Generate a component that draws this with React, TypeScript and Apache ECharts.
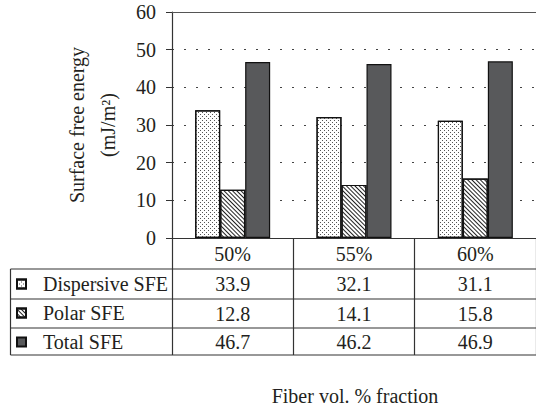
import React, { useEffect, useRef } from "react";
import * as echarts from "echarts";

const categories = ["50%", "55%", "60%"];
const seriesNames = ["Dispersive SFE", "Polar SFE", "Total SFE"];
const dispersive = [33.9, 32.1, 31.1];
const polar = [12.8, 14.1, 15.8];
const total = [46.7, 46.2, 46.9];
const yMin = 0;
const yMax = 60;
const yStep = 10;
const yTitle = ["Surface free energy", "(mJ/m²)"];
const xTitle = "Fiber vol. % fraction";

const FONT = "Liberation Serif";
const FS = 20;
const TEXT = "#231f20";
const LINE = "#333333";

export default function App() {
  const ref = useRef<HTMLDivElement>(null);
  useEffect(() => {
    const chart = echarts.init(ref.current!, null, { renderer: "svg" });
    const gridLeft = 172;
    const gridTop = 12;
    const gridW = 366;
    const gridH = 226;
    const axisY = gridTop + gridH;
    const rowLines = [axisY + 31, axisY + 61, axisY + 90, axisY + 117];
    const tableLeft = 10.5;
    const tableRight = gridLeft + gridW;

    const dotDecal = {
      symbol: "rect",
      symbolSize: 1,
      color: "#555",
      dashArrayX: [[1, 3], [0, 2, 1, 1]],
      dashArrayY: [1, 1],
      rotation: 0,
    };
    const hatchDecal = {
      symbol: "rect",
      symbolSize: 1,
      color: "#222",
      dashArrayX: [1, 0],
      dashArrayY: [1, 2],
      rotation: Math.PI / 4,
    };
    const border = { borderColor: "#111", borderWidth: 1.2 };
    const values = [dispersive, polar, total];
    const styles = [
      { color: "#ffffff", decal: dotDecal, ...border },
      { color: "#ffffff", decal: hatchDecal, ...border },
      { color: "#58595b", ...border },
    ];
    const font = `${FS}px "${FONT}"`;

    chart.setOption({
      animation: false,
      textStyle: { fontFamily: FONT, color: TEXT },
      grid: { left: gridLeft, top: gridTop, width: gridW, height: gridH },
      legend: {
        data: seriesNames,
        orient: "vertical",
        left: 16,
        top: axisY + 36,
        padding: 0,
        itemWidth: 9,
        itemHeight: 9,
        itemGap: 9,
        icon: "rect",
        selectedMode: false,
        textStyle: {
          fontSize: FS,
          fontFamily: FONT,
          color: TEXT,
          lineHeight: 20,
          padding: [0, 0, 0, 12],
        },
      },
      xAxis: [
        {
          type: "category",
          data: categories,
          axisLine: { lineStyle: { color: LINE, width: 1.2 } },
          axisTick: { show: true, length: rowLines[3] - axisY, lineStyle: { color: LINE, width: 1.2 } },
          axisLabel: { fontSize: FS, fontFamily: FONT, color: TEXT, margin: 6 },
        },
        {
          type: "category",
          position: "top",
          data: categories,
          axisLine: { lineStyle: { color: "#555", width: 1.2 } },
          axisTick: { show: false },
          axisLabel: { show: false },
        },
      ],
      yAxis: {
        type: "value",
        min: yMin,
        max: yMax,
        interval: yStep,
        axisLine: { show: true, lineStyle: { color: LINE, width: 1.2 } },
        axisTick: { show: true, length: 6, lineStyle: { color: LINE } },
        axisLabel: { fontSize: FS, fontFamily: FONT, color: TEXT, margin: 16 },
        splitLine: { show: true, lineStyle: { type: [2, 10], color: "#444", width: 1 } },
      },
      series: seriesNames.map((name, i) => ({
        name,
        type: "bar",
        data: values[i],
        barWidth: 25,
        barGap: "0%",
        itemStyle: styles[i],
      })),
    });

    const centers = categories.map((c) => chart.convertToPixel({ xAxisIndex: 0 }, c) as number);
    const graphic: any[] = [];
    rowLines.forEach((y) => {
      graphic.push({
        type: "line",
        shape: { x1: tableLeft, y1: y, x2: tableRight, y2: y },
        style: { stroke: LINE, lineWidth: 1.2 },
      });
    });
    graphic.push({
      type: "line",
      shape: { x1: tableLeft, y1: rowLines[0], x2: tableLeft, y2: rowLines[3] },
      style: { stroke: LINE, lineWidth: 1.2 },
    });
    values.forEach((row, r) => {
      const yc = (rowLines[r] + rowLines[r + 1]) / 2;
      row.forEach((v, c) => {
        graphic.push({
          type: "text",
          x: centers[c],
          y: yc,
          style: {
            text: v.toFixed(1),
            font,
            fill: TEXT,
            align: "center",
            verticalAlign: "middle",
          },
        });
      });
    });
    graphic.push({
      type: "text",
      x: 77,
      y: 125,
      rotation: Math.PI / 2,
      style: { text: yTitle[0], font, fill: TEXT, align: "center", verticalAlign: "middle" },
    });
    graphic.push({
      type: "text",
      x: 108,
      y: 125,
      rotation: Math.PI / 2,
      style: { text: yTitle[1], font, fill: TEXT, align: "center", verticalAlign: "middle" },
    });
    graphic.push({
      type: "text",
      x: 355,
      y: 396,
      style: { text: xTitle, font, fill: TEXT, align: "center", verticalAlign: "middle" },
    });
    chart.setOption({ graphic });

    return () => chart.dispose();
  }, []);
  return (
    <div
      ref={ref}
      style={{ position: "absolute", left: 0, top: 0, width: 536, height: 408, background: "#fff" }}
    />
  );
}
